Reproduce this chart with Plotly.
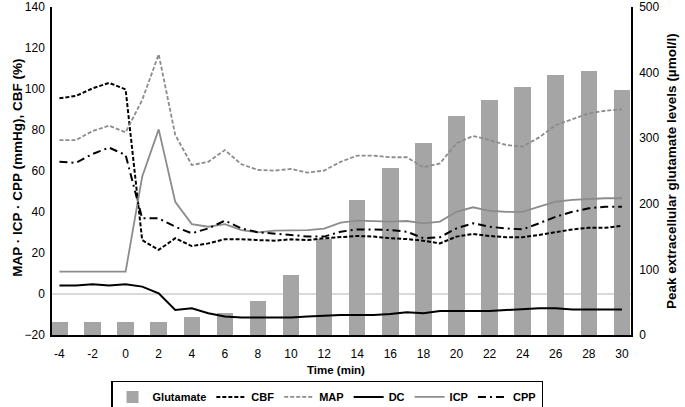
import plotly.graph_objects as go

minutes = list(range(-4, 31))
bar_minutes = list(range(-4, 31, 2))
x_ticks = list(range(-4, 31, 2))

glutamate = [19.4, 19.4, 19.4, 19.4, 28, 33, 52, 91.5, 146, 206, 255, 292, 334, 359, 378.5, 396, 402, 373]

cbf = [95.5, 96.6, 100.3, 103, 99.8, 26.3, 21.5, 27.2, 23.4, 24.7, 26.7, 26.7, 26.3, 26, 26.7, 26.3,
       27.2, 27.7, 28.3, 28, 27.2, 26.8, 26, 24.7, 28, 29.3, 28.3, 27.7, 27.7, 28.8, 30.1, 31.5, 32.3, 32.3, 33.2]
map_ = [75.1, 75.1, 79.5, 82.1, 78.9, 94.6, 116.9, 77.6, 62.9, 64.5, 70.2, 63.3, 60.5, 60.2, 61, 59.2,
        60.2, 64.5, 67.5, 67.5, 66.7, 66.7, 61.8, 63.7, 73.5, 77.1, 75.1, 72.7, 71.9, 76.4, 82.4, 85.2, 88.1, 89.4, 90.1]
dc = [4.1, 4.1, 4.7, 4.1, 4.7, 3.6, 0.3, -7.8, -7, -9.4, -11, -11.5, -11.5, -11.5, -11.5, -11,
      -10.6, -10.2, -10.2, -10.2, -9.8, -8.9, -9.4, -8.3, -8.3, -8.3, -8.3, -7.8, -7.3, -7, -7, -7.5, -7.5, -7.5, -7.5]
icp = [10.9, 10.9, 10.9, 10.9, 10.9, 57.2, 80.3, 45, 34.1, 32.8, 34.1, 31.2, 30.1, 30.9, 31.2, 31.2,
       31.9, 34.8, 35.8, 35.6, 35.3, 35.6, 34.5, 35.3, 40.1, 42.3, 40.6, 40.1, 40.1, 42.6, 45, 45.9, 46.3, 46.7, 46.7]
cpp = [64.5, 64, 68.3, 71.4, 67.8, 36.9, 36.9, 32.8, 29.6, 32, 35.8, 32, 30.1, 29.6, 28.8, 28,
       28, 30.4, 31.5, 31.5, 31.2, 30.4, 27.2, 27.7, 32, 34.5, 32.8, 32, 31.5, 34.5, 37.7, 40.1, 41.8, 42.6, 42.6]

BAR = "#a5a5a5"
GRAY = "#8c8c8c"
FONT = "Liberation Sans, Arial, sans-serif"

fig = go.Figure()
fig.add_trace(go.Bar(x=bar_minutes, y=glutamate, name="Glutamate", marker_color=BAR,
                     marker_line_width=0, width=1.0, yaxis="y"))
fig.add_trace(go.Scatter(x=minutes, y=cbf, name="CBF", mode="lines",
                         line=dict(color="black", width=2, dash="4px,2px"), yaxis="y2"))
fig.add_trace(go.Scatter(x=minutes, y=map_, name="MAP", mode="lines",
                         line=dict(color=GRAY, width=1.8, dash="4px,2px"), yaxis="y2"))
fig.add_trace(go.Scatter(x=minutes, y=dc, name="DC", mode="lines",
                         line=dict(color="black", width=2), yaxis="y2"))
fig.add_trace(go.Scatter(x=minutes, y=icp, name="ICP", mode="lines",
                         line=dict(color=GRAY, width=1.8), yaxis="y2"))
fig.add_trace(go.Scatter(x=minutes, y=cpp, name="CPP", mode="lines",
                         line=dict(color="black", width=2, dash="8px,4px,2px,4px"), yaxis="y2"))

x_title_font = dict(family=FONT, size=11.5, color="black", weight="bold")
y_title_font = dict(family=FONT, size=13.5, color="black", weight="bold")

fig.update_layout(
    width=685, height=407,
    margin=dict(l=52, r=54, t=7, b=72, autoexpand=False),
    plot_bgcolor="white", paper_bgcolor="white",
    font=dict(family=FONT, size=12, color="black"),
    showlegend=True,
    legend=dict(orientation="h", x=0.475, xanchor="center", y=-0.14, yanchor="top",
                bordercolor="black", borderwidth=1.5, font=dict(size=11, family=FONT, weight="bold"),
                traceorder="normal", itemwidth=30, tracegroupgap=0),
    bargap=0,
    xaxis=dict(range=[-4.45, 30.55], tickmode="array", tickvals=x_ticks,
               ticktext=[str(v) for v in x_ticks], showgrid=False, zeroline=False,
               showline=True, linecolor="black", linewidth=1.5,
               ticks="outside", ticklen=7, tickcolor="rgba(0,0,0,0)",
               tickfont=dict(size=12), automargin=False),
    yaxis=dict(range=[0, 500], side="right", dtick=100, showgrid=False, zeroline=False,
               showline=True, linecolor="black", linewidth=1.5, automargin=False,
               ticks="outside", ticklen=4, tickcolor="rgba(0,0,0,0)", tickfont=dict(size=12)),
    yaxis2=dict(range=[-20, 140], overlaying="y", side="left", dtick=20, showgrid=False,
                zeroline=True, zerolinecolor="#d9d9d9", zerolinewidth=1.5,
                showline=True, linecolor="black", linewidth=1.5, automargin=False,
                ticks="outside", ticklen=3, tickcolor="rgba(0,0,0,0)", tickfont=dict(size=12)),
    annotations=[
        dict(text="Time (min)", xref="paper", yref="paper", x=0.49, y=-35 / 328,
             xanchor="center", yanchor="middle", showarrow=False, font=x_title_font),
        dict(text="MAP · ICP · CPP (mmHg), CBF (%)", xref="paper", yref="paper",
             x=-34 / 579, y=0.51, xanchor="center", yanchor="middle", textangle=-90,
             showarrow=False, font=y_title_font),
        dict(text="Peak extracellular glutamate levels (µmol/l)", xref="paper", yref="paper",
             x=1 + 40 / 579, y=0.50, xanchor="center", yanchor="middle", textangle=-90,
             showarrow=False, font=y_title_font),
    ],
)

fig.write_html("out.html", config={"displayModeBar": False},
               post_script="document.body.style.margin='0';document.body.style.padding='0';")
